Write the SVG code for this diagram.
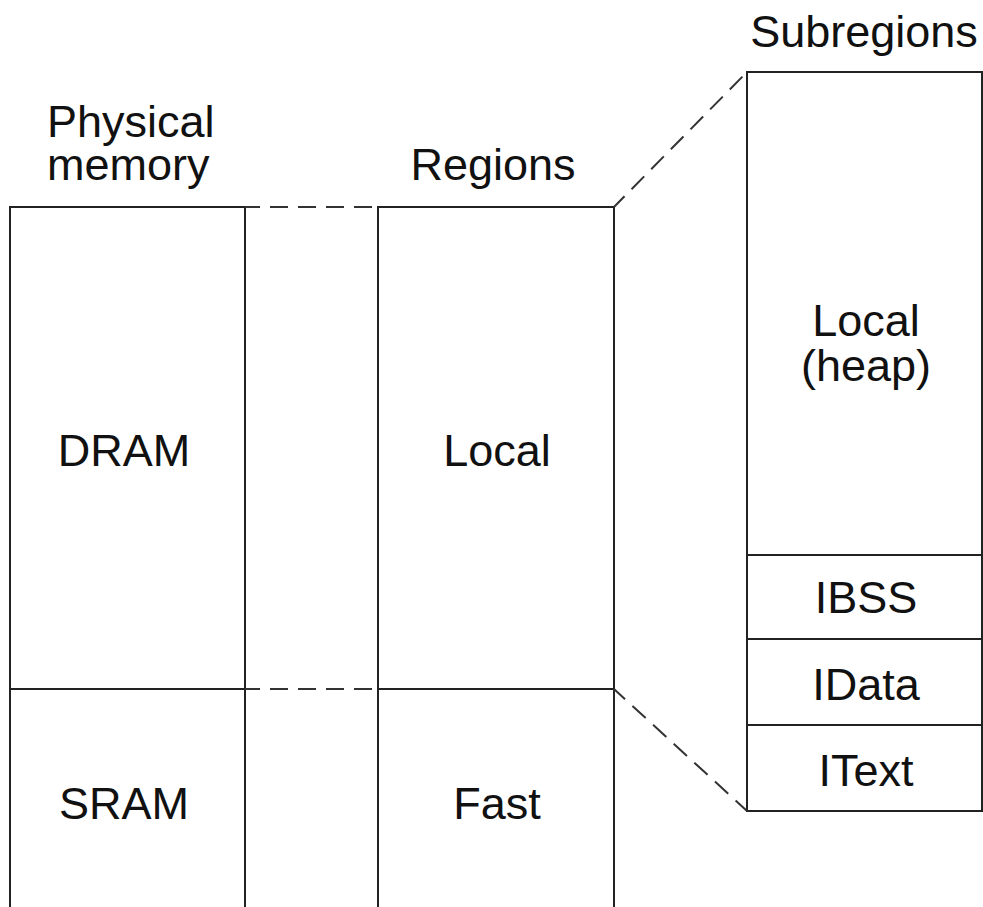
<svg xmlns="http://www.w3.org/2000/svg" width="983" height="907" viewBox="0 0 983 907">
  <style>
    .box { fill: none; stroke: #222; stroke-width: 2; }
    .dash { fill: none; stroke: #333; stroke-width: 2; stroke-dasharray: 18 10; stroke-dashoffset: 3; }
    text { font-family: "Liberation Sans", Arial, sans-serif; font-size: 45px; fill: #111; text-anchor: middle; }
    text.left { text-anchor: start; }
  </style>
  <rect width="983" height="907" fill="#fff"/>

  <!-- column headers -->
  <g id="headers">
    <text class="left" x="47" y="137">Physical</text>
    <text class="left" x="47" y="180">memory</text>
    <text x="493" y="180">Regions</text>
    <text x="864" y="47">Subregions</text>
  </g>

  <!-- physical memory column -->
  <g id="physical">
    <path class="box" d="M10 907 V207 H245 V907 M10 689 H245"/>
    <text x="124" y="466">DRAM</text>
    <text x="124" y="819">SRAM</text>
  </g>

  <!-- regions column -->
  <g id="regions">
    <path class="box" d="M378 907 V207 H614 V907 M378 689 H614"/>
    <text x="497" y="466">Local</text>
    <text x="497" y="819">Fast</text>
  </g>

  <!-- subregions of the local region -->
  <g id="subregions">
    <rect class="box" x="747" y="72" width="235" height="739"/>
    <path class="box" d="M747 555 H982 M747 639 H982 M747 725 H982"/>
    <text x="866" y="336">Local</text>
    <text x="866" y="381">(heap)</text>
    <text x="866" y="613">IBSS</text>
    <text x="866" y="700">IData</text>
    <text x="866" y="786">IText</text>
  </g>

  <!-- dashed connectors -->
  <g id="connectors">
    <path class="dash" d="M245 207 H378"/>
    <path class="dash" d="M245 689 H378"/>
    <path class="dash" d="M614 207 L747 72"/>
    <path class="dash" d="M614 689 L747 811"/>
  </g>
</svg>
